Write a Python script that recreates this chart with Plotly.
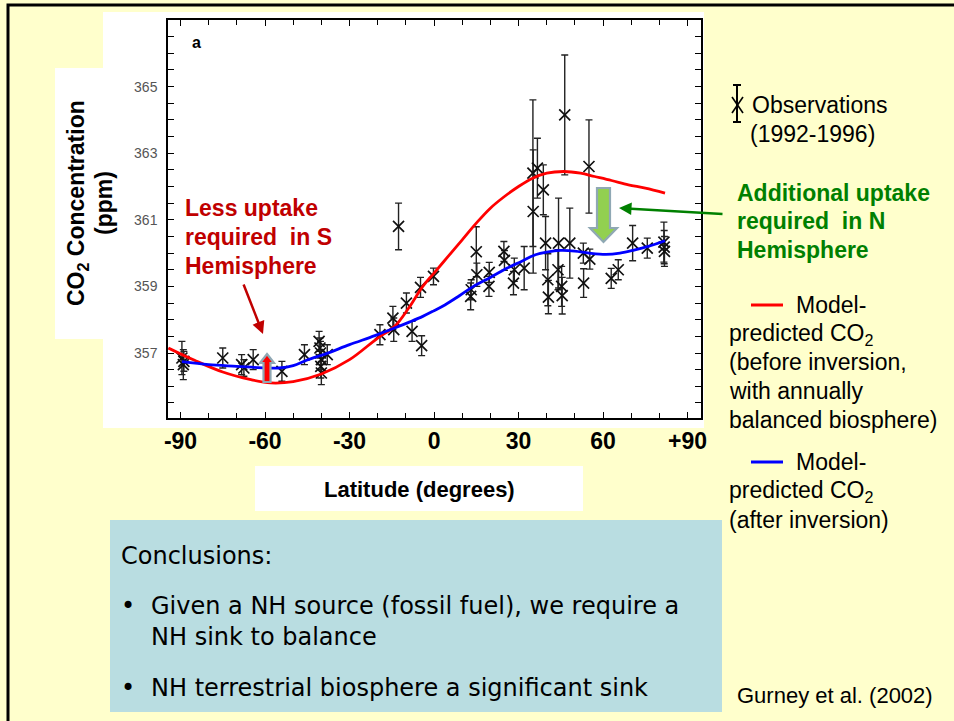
import plotly.graph_objects as go

# Observed zonal-mean CO2 (1992-1996): latitude, concentration, error
obs_lat = [-89.5, -89.0, -88.8, -75.0, -68.3, -67.5, -64.2, -54.0, -46.0,
           -40.8, -40.5, -40.3, -40.0, -40.2, -40.0, -37.9, -19.2, -14.6,
           -14.3, -12.6, -9.8, -7.8, -4.8, -4.4, -0.2,
           13.0, 13.2, 15.0, 15.2, 19.5, 19.6, 24.8, 25.0, 28.2, 28.5, 32.0,
           35.1, 35.2, 36.7, 38.8, 39.6, 40.4, 40.6, 44.0, 44.2, 45.3, 45.5,
           46.4, 48.2, 53.0, 53.1, 55.0, 55.3, 62.9, 65.4, 70.5, 75.7, 81.6,
           81.7, 81.8]
obs_co2 = [356.85, 356.65, 356.75, 356.85, 356.65, 356.55, 356.80, 356.45, 356.95,
           357.35, 357.15, 357.00, 356.80, 356.60, 356.40, 356.95, 357.55, 358.05,
           357.70, 360.80, 358.50, 357.65, 358.97, 357.22, 359.30,
           358.70, 358.90, 360.04, 359.35, 359.00, 359.42, 360.05, 359.78, 359.10,
           359.50, 359.55, 362.40, 361.25, 362.55, 361.90, 360.30, 359.20, 358.68,
           359.50, 360.30, 359.00, 358.72, 364.15, 360.30, 360.00, 359.10, 362.60,
           359.82, 359.24, 359.50, 360.30, 360.15, 360.33, 360.18, 360.05]
obs_err = [0.50, 0.45, 0.30, 0.30, 0.30, 0.25, 0.30, 0.30, 0.30,
           0.30, 0.30, 0.35, 0.30, 0.35, 0.35, 0.30, 0.30, 0.35,
           0.35, 0.70, 0.30, 0.30, 0.30, 0.30, 0.25,
           0.40, 0.30, 0.75, 0.35, 0.30, 0.30, 0.30, 0.30, 0.35, 0.35, 0.65,
           2.20, 1.85, 0.90, 0.75, 0.80, 0.78, 0.50, 0.60, 1.35, 0.60, 0.55,
           1.80, 1.05, 0.30, 0.43, 1.40, 0.30, 0.30, 0.30, 0.53, 0.30, 0.60,
           0.50, 0.45]

# Model-predicted CO2 before inversion (annually balanced biosphere)
pre_lat = [-94.3, -85, -75, -65, -58, -50, -40, -30, -20, -14, -9, -4, 0, 5,
           10, 15, 20, 25, 30, 35, 40, 46, 52, 57, 63, 69, 75, 82]
pre_co2 = [357.15, 356.78, 356.43, 356.20, 356.10, 356.14, 356.37, 356.80,
           357.45, 357.80, 358.35, 359.00, 359.40, 359.90, 360.40, 360.90,
           361.35, 361.70, 362.00, 362.25, 362.40, 362.45, 362.40, 362.30,
           362.18, 362.05, 361.95, 361.80]

# Model-predicted CO2 after inversion
post_lat = [-89.5, -80, -70, -60, -55, -50, -45, -38, -30, -21, -14, -9, -4, 0,
            4, 9, 14, 20, 26, 31, 36, 40, 45, 50, 55, 61, 66, 71, 76, 82]
post_co2 = [356.74, 356.65, 356.60, 356.55, 356.55, 356.62, 356.79, 356.99,
            357.25, 357.52, 357.75, 357.92, 358.10, 358.27, 358.45, 358.72,
            359.00, 359.27, 359.55, 359.75, 359.95, 360.03, 360.08, 360.06,
            360.00, 359.96, 360.00, 360.09, 360.20, 360.37]

x_ticks = [-90, -60, -30, 0, 30, 60, 90]
x_tick_text = ["-90", "-60", "-30", "0", "30", "60", "+90"]
y_ticks = [357, 359, 361, 363, 365]

W, H = 954, 721
L, R, T, B = 168, 701, 20, 418

YELLOW = "#FFFFCC"
DARK_RED = "#C00000"
GREEN = "#008000"
ARIAL = "Liberation Sans, Arial, sans-serif"
BODY = "DejaVu Sans, sans-serif"


def px(x):
    return (x - L) / (R - L)


def py(y):
    return (B - y) / (B - T)


fig = go.Figure()

fig.add_trace(go.Scatter(
    x=obs_lat, y=obs_co2, mode="markers", name="Observations",
    marker=dict(symbol="x-thin", size=11, color="#111111",
                line=dict(width=1.7, color="#111111")),
    error_y=dict(type="data", array=obs_err, visible=True,
                 thickness=1.4, width=3.5, color="#222222"),
    showlegend=False))

fig.add_trace(go.Scatter(
    x=pre_lat, y=pre_co2, mode="lines", name="before inversion",
    line=dict(color="#FF0000", width=2.8, shape="spline", smoothing=1.0),
    showlegend=False))

fig.add_trace(go.Scatter(
    x=post_lat, y=post_co2, mode="lines", name="after inversion",
    line=dict(color="#0000FF", width=2.8, shape="spline", smoothing=1.0),
    showlegend=False))

shapes = []
# slide frame
shapes.append(dict(type="rect", xref="paper", yref="paper",
                   x0=px(8), x1=px(990), y0=py(5), y1=py(760),
                   line=dict(color="black", width=3), fillcolor=YELLOW,
                   layer="below"))
# white chart panel and y-title panel
shapes.append(dict(type="rect", xref="paper", yref="paper",
                   x0=px(103), x1=px(704), y0=py(12), y1=py(428),
                   line=dict(width=0), fillcolor="white", layer="below"))
shapes.append(dict(type="rect", xref="paper", yref="paper",
                   x0=px(55), x1=px(104), y0=py(68), y1=py(339),
                   line=dict(width=0), fillcolor="white", layer="below"))
# x-title box
shapes.append(dict(type="rect", xref="paper", yref="paper",
                   x0=px(255), x1=px(583), y0=py(466), y1=py(511),
                   line=dict(width=0), fillcolor="white", layer="below"))
# conclusions box
shapes.append(dict(type="rect", xref="paper", yref="paper",
                   x0=px(110), x1=px(722), y0=py(520), y1=py(712),
                   line=dict(width=0), fillcolor="#B9DDE1", layer="below"))


def block_arrow(pts, fill):
    path = "M " + " L ".join(f"{px(a):.5f},{py(b):.5f}" for a, b in pts) + " Z"
    return dict(type="path", xref="paper", yref="paper", path=path,
                fillcolor=fill, line=dict(color="#8FA8B4", width=2.2),
                layer="above")


# red up arrow (S hemisphere)
shapes.append(block_arrow([(267, 354), (274, 363), (270.5, 363), (270.5, 382),
                           (263.5, 382), (263.5, 363), (260, 363)], "#FF0000"))
# green down arrow (N hemisphere)
shapes.append(block_arrow([(597, 188), (610, 188), (610, 228), (617, 228),
                           (603.5, 242), (590, 228), (597, 228)], "#92D050"))

# legend glyphs
shapes.append(dict(type="line", xref="paper", yref="paper",
                   x0=px(737), x1=px(737), y0=py(85), y1=py(122),
                   line=dict(color="black", width=2)))
for yy in (85, 122):
    shapes.append(dict(type="line", xref="paper", yref="paper",
                       x0=px(733), x1=px(741), y0=py(yy), y1=py(yy),
                       line=dict(color="black", width=2)))
shapes.append(dict(type="line", xref="paper", yref="paper",
                   x0=px(732), x1=px(743), y0=py(97), y1=py(113),
                   line=dict(color="black", width=1.6)))
shapes.append(dict(type="line", xref="paper", yref="paper",
                   x0=px(732), x1=px(743), y0=py(113), y1=py(97),
                   line=dict(color="black", width=1.6)))
shapes.append(dict(type="line", xref="paper", yref="paper",
                   x0=px(751), x1=px(783), y0=py(305), y1=py(305),
                   line=dict(color="#FF0000", width=3)))
shapes.append(dict(type="line", xref="paper", yref="paper",
                   x0=px(751), x1=px(783), y0=py(462), y1=py(462),
                   line=dict(color="#0000FF", width=3)))

annotations = []


def text(x, y, s, size, color="black", bold=False, family=ARIAL,
         xanchor="left", angle=0):
    annotations.append(dict(
        xref="paper", yref="paper", x=px(x), y=py(y), text=s,
        showarrow=False, xanchor=xanchor, yanchor="middle", textangle=angle,
        font=dict(family=family, size=size, color=color,
                  weight="bold" if bold else "normal")))


text(190, 42, "a", 16, bold=True)

# y-axis title
text(77, 203, "CO<sub>2</sub> Concentration", 23, bold=True,
     xanchor="center", angle=-90)
text(104, 203, "(ppm)", 23, bold=True, xanchor="center", angle=-90)
# x-axis title
text(419, 489, "Latitude (degrees)", 22, bold=True, xanchor="center")

# S hemisphere note
text(183, 208, "Less uptake", 23, DARK_RED, True)
text(183, 237, "required  in S", 23, DARK_RED, True)
text(183, 266, "Hemisphere", 23, DARK_RED, True)
annotations.append(dict(xref="paper", yref="paper", x=px(263), y=py(334),
                        ax=-20, ay=-51, text="", showarrow=True,
                        arrowhead=2, arrowsize=1, arrowwidth=2.5,
                        arrowcolor=DARK_RED))

# N hemisphere note
text(735, 193, "Additional uptake", 23, GREEN, True)
text(735, 221, "required  in N", 23, GREEN, True)
text(735, 250, "Hemisphere", 23, GREEN, True)
annotations.append(dict(xref="paper", yref="paper", x=px(619), y=py(208),
                        ax=105, ay=6, text="", showarrow=True,
                        arrowhead=2, arrowsize=1, arrowwidth=2.5,
                        arrowcolor=GREEN))

# legend text
text(750, 105, "Observations", 23)
text(748, 134, "(1992-1996)", 23)
text(794, 305, "Model-", 23)
text(727, 334, "predicted CO<sub>2</sub>", 23)
text(727, 362, "(before inversion,", 23)
text(727, 391, "with annually", 23)
text(727, 420, "balanced biosphere)", 23)
text(794, 462, "Model-", 23)
text(727, 491, "predicted CO<sub>2</sub>", 23)
text(727, 520, "(after inversion)", 23)

# conclusions
text(119, 556, "Conclusions:", 24, family=BODY)
text(119, 606, "•", 24, family=BODY)
text(149, 606, "Given a NH source (fossil fuel), we require a", 24, family=BODY)
text(149, 637, "NH sink to balance", 24, family=BODY)
text(119, 688, "•", 24, family=BODY)
text(149, 688, "NH terrestrial biosphere a significant sink", 24, family=BODY)

text(735, 695, "Gurney et al. (2002)", 22)

x_lo = -90 - (180.5 - L) / 2.817
x_hi = x_lo + (R - L) / 2.817
y_lo = 357 - (B - 353) / 33.3
y_hi = y_lo + (B - T) / 33.3

fig.update_layout(
    width=W, height=H,
    margin=dict(l=L, r=W - R, t=T, b=H - B, pad=0),
    paper_bgcolor=YELLOW, plot_bgcolor="white",
    shapes=shapes, annotations=annotations,
    xaxis=dict(range=[x_lo, x_hi], tickvals=x_ticks, ticktext=x_tick_text,
               ticks="inside", ticklen=6, tickwidth=1.2, tickcolor="black",
               minor=dict(dtick=10, tick0=0, ticks="inside", ticklen=5,
                          tickwidth=1.2, tickcolor="black"),
               showline=True, linecolor="black", linewidth=1.5, mirror="ticks",
               showgrid=False, zeroline=False, ticklabelstandoff=2,
               tickfont=dict(family=ARIAL, size=23, color="black",
                             weight="bold")),
    yaxis=dict(range=[y_lo, y_hi], tickvals=y_ticks,
               ticks="inside", ticklen=6, tickwidth=1.2, tickcolor="black",
               minor=dict(dtick=0.5, tick0=0, ticks="inside", ticklen=6,
                          tickwidth=1.2, tickcolor="black"),
               showline=True, linecolor="black", linewidth=1.5, mirror="ticks",
               showgrid=False, zeroline=False, ticklabelstandoff=6,
               tickfont=dict(family=ARIAL, size=14, color="#555555")),
)

fig.write_html("out.html")
